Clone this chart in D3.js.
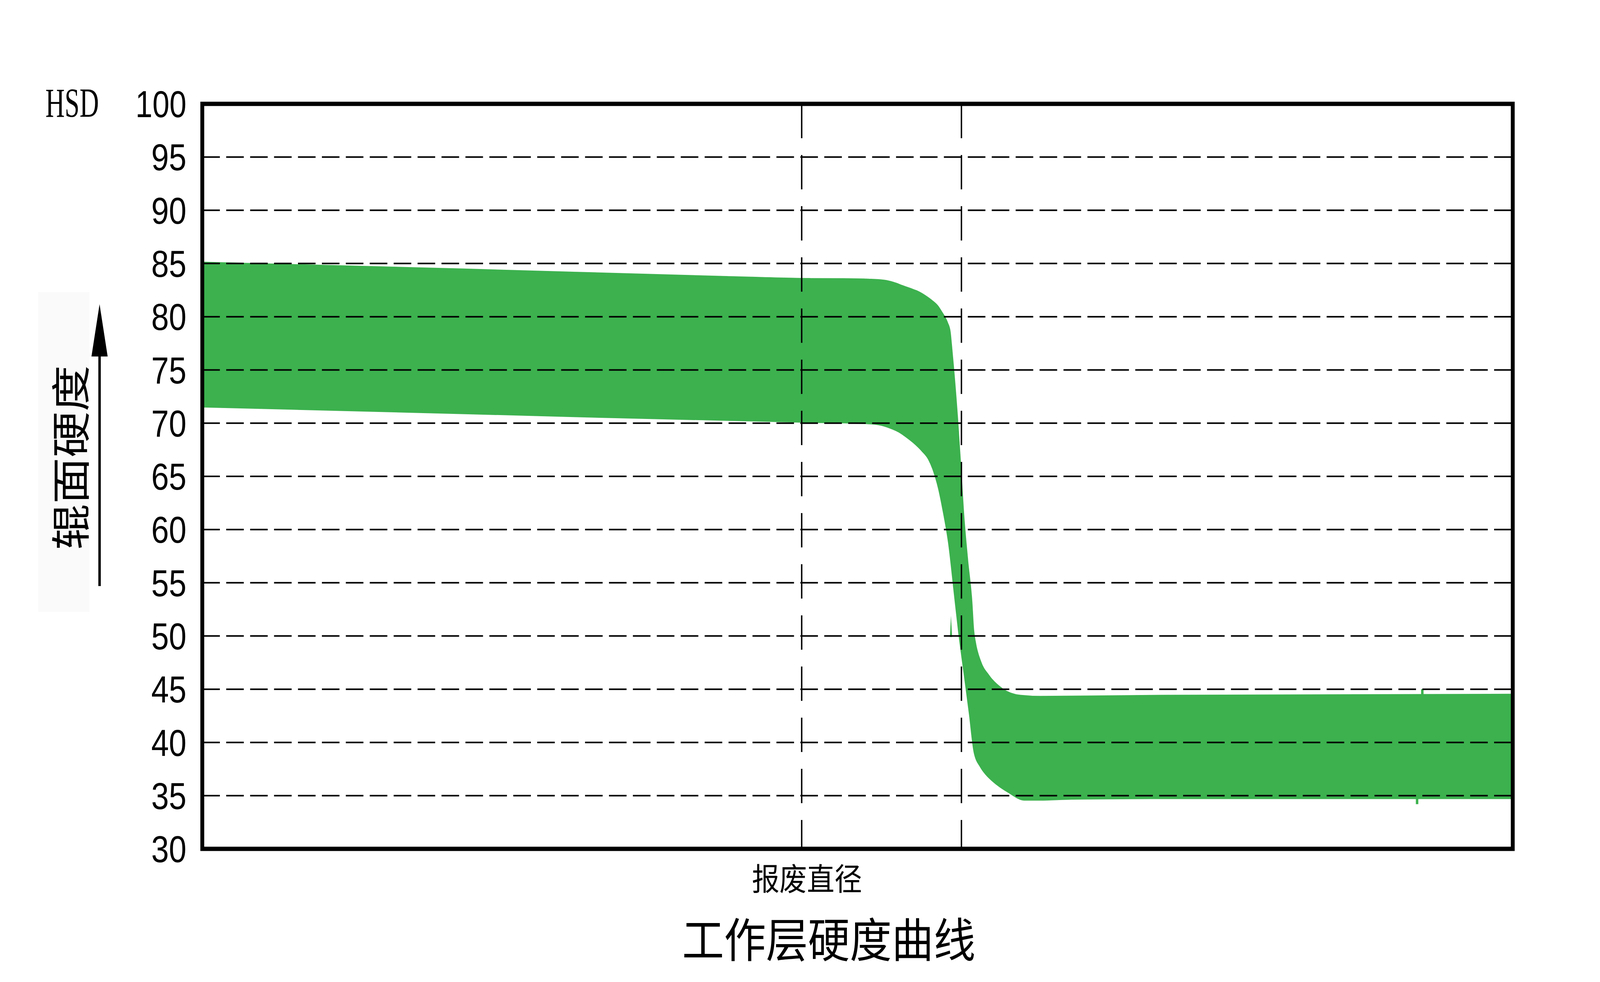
<!DOCTYPE html>
<html>
<head>
<meta charset="utf-8">
<script src="https://cdn.jsdelivr.net/npm/d3@7"></script>
<style>
  html, body { margin: 0; padding: 0; background: #fff; overflow: hidden; }
  svg { display: block; }
</style>
</head>
<body>
<div id="chart"></div>
<script>
const W = 4548;
const H = 2515;

// hardness ticks (HSD)
const yTicks = [30, 35, 40, 45, 50, 55, 60, 65, 70, 75, 80, 85, 90, 95, 100];

// position across the roll, 0 = left edge of the plot, 100 = right edge
const upperPos = [0, 20, 40, 46.31, 48.99, 50.82, 52.05, 52.75, 53.42, 54.09, 54.52, 55.17, 55.62, 56.11, 56.43, 56.72, 56.86, 57.05, 57.15, 57.32, 57.64, 57.85, 58.07, 58.39, 58.71, 58.84, 58.98, 59.38, 60.0, 61.07, 62.42, 63.95, 73.15, 100];
const upperHSD = [85.1, 84.45, 83.75, 83.56, 83.55, 83.5, 83.4, 83.2, 82.9, 82.6, 82.4, 81.95, 81.55, 81.0, 80.4, 79.8, 79.4, 78.6, 77.4, 75.1, 70.05, 66.1, 61.7, 57.1, 53.2, 50.6, 49.4, 47.6, 46.3, 45.0, 44.4, 44.3, 44.4, 44.5];

const lowerPos = [0, 20, 46.31, 48.99, 51.09, 52.05, 52.62, 53.15, 53.69, 54.26, 54.93, 55.44, 55.76, 55.97, 56.19, 56.51, 56.99, 57.4, 57.72, 58.2, 58.55, 58.91, 59.4, 59.81, 60.35, 61.56, 62.74, 63.95, 66.34, 73.15, 100];
const lowerHSD = [71.55, 70.92, 70.1, 70.05, 69.95, 69.75, 69.5, 69.2, 68.75, 68.2, 67.4, 66.6, 65.7, 64.9, 63.9, 62.0, 58.5, 54.0, 50.5, 46.0, 42.7, 39.1, 37.7, 37.0, 36.35, 35.3, 34.6, 34.6, 34.7, 34.75, 34.75];

// small stray traces in the band
const sliverPos = [57.13, 57.22, 57.05];
const sliverHSD = [51.9, 49.9, 49.9];
const strayPos = [93.1, 92.7];
const strayFrom = [44.5, 34.8];
const strayTo = [45.0, 34.2];

// vertical reference lines: scrap diameter and working layer end
const refPos = [45.74, 57.93];
const refLabel = "报废直径";

const yLabel = "辊面硬度";
const unitLabel = "HSD";
const title = "工作层硬度曲线";

const plotL = 575, plotR = 4300, plotT = 266, plotB = 2174;
const green = "#3cb14e";

// drawing is laid out on a 4548x2515 board and stretched to the window
const svg = d3.select('#chart')
    .append('svg')
    .attr('viewBox', '0 0 ' + W + ' ' + H)
    .attr('preserveAspectRatio', 'none')
    .style('width', '100vw')
    .style('height', '100vh')
    .style('background-color', '#fff');

const x = d3.scaleLinear().domain([0, 100]).range([plotL, plotR]);
const y = d3.scaleLinear().domain([30, 100]).range([plotB, plotT]);

// band of hardness curves
const upper = upperPos.map((p, i) => [p, upperHSD[i]]);
const lower = lowerPos.map((p, i) => [p, lowerHSD[i]]).reverse();
const edge = d3.line()
    .x(d => x(d[0]))
    .y(d => y(d[1]))
    .curve(d3.curveMonotoneX);
const bandPath = edge(upper) + 'L' + edge(lower).slice(1) + 'Z';

svg.append('path')
    .attr('d', bandPath)
    .attr('fill', green)
    .attr('stroke', green)
    .attr('stroke-width', 4);

svg.append('path')
    .attr('d', d3.line().x(d => x(d[0])).y(d => y(d[1]))(sliverPos.map((p, i) => [p, sliverHSD[i]])) + 'Z')
    .attr('fill', green);

svg.selectAll('.stray')
    .data(strayPos)
    .enter()
    .append('line')
    .attr('class', 'stray')
    .attr('x1', d => x(d))
    .attr('x2', d => x(d))
    .attr('y1', (d, i) => y(strayFrom[i]))
    .attr('y2', (d, i) => y(strayTo[i]))
    .attr('stroke', green)
    .attr('stroke-width', 7);

// horizontal dashed grid
svg.selectAll('.hgrid')
    .data(yTicks.filter(t => t > 30 && t < 100))
    .enter()
    .append('line')
    .attr('class', 'hgrid')
    .attr('x1', plotL)
    .attr('x2', plotR)
    .attr('y1', d => y(d))
    .attr('y2', d => y(d))
    .attr('stroke', '#000')
    .attr('stroke-width', 4)
    .attr('stroke-dasharray', '50 18');

// vertical dashed reference lines
svg.selectAll('.vref')
    .data(refPos)
    .enter()
    .append('line')
    .attr('class', 'vref')
    .attr('x1', d => x(d))
    .attr('x2', d => x(d))
    .attr('y1', plotT)
    .attr('y2', plotB)
    .attr('stroke', '#000')
    .attr('stroke-width', 4)
    .attr('stroke-dasharray', '88 43');

// frame
svg.append('rect')
    .attr('x', plotL)
    .attr('y', plotT)
    .attr('width', plotR - plotL)
    .attr('height', plotB - plotT)
    .attr('fill', 'none')
    .attr('stroke', '#000')
    .attr('stroke-width', 11);

// y axis labels
const yAxis = d3.axisLeft(y).tickValues(yTicks).tickSize(0).tickPadding(45);
const ya = svg.append('g')
    .attr('id', 'y-axis')
    .attr('transform', 'translate(' + plotL + ',0)')
    .call(yAxis);
ya.select('.domain').remove();
ya.selectAll('text')
    .attr('dy', '0.35em')
    .attr('x', -45)
    .style('font-family', '"Liberation Sans", Arial, sans-serif')
    .style('font-size', '96px')
    .attr('fill', '#000')
    .attr('textLength', d => String(d).length === 3 ? 145 : 100)
    .attr('lengthAdjust', 'spacingAndGlyphs');

svg.append('text')
    .attr('x', 129)
    .attr('y', 299)
    .attr('textLength', 152)
    .attr('lengthAdjust', 'spacingAndGlyphs')
    .style('font-family', '"Liberation Serif", "Times New Roman", serif')
    .style('font-size', '106px')
    .text(unitLabel);

// y label block with arrow
svg.append('rect')
    .attr('x', 109)
    .attr('y', 748)
    .attr('width', 145)
    .attr('height', 819)
    .attr('fill', '#fafafa');

svg.append('text')
    .attr('transform', 'translate(194,1172) rotate(-90)')
    .attr('text-anchor', 'middle')
    .attr('dominant-baseline', 'central')
    .attr('textLength', 473)
    .attr('lengthAdjust', 'spacingAndGlyphs')
    .style('font-family', '"Noto Sans CJK SC", sans-serif')
    .style('font-size', '112px')
    .text(yLabel);

svg.append('line')
    .attr('x1', 283).attr('x2', 283)
    .attr('y1', 1501).attr('y2', 905)
    .attr('stroke', '#000')
    .attr('stroke-width', 7);
svg.append('path')
    .attr('d', 'M283,779L260,913L306,913Z')
    .attr('fill', '#000');

// scrap diameter label and title
svg.append('text')
    .attr('x', x(refPos[0]) + 15)
    .attr('y', 2280)
    .attr('text-anchor', 'middle')
    .attr('textLength', 313)
    .attr('lengthAdjust', 'spacingAndGlyphs')
    .style('font-family', '"Noto Sans CJK SC", sans-serif')
    .style('font-size', '80px')
    .text(refLabel);

svg.append('text')
    .attr('x', 2356)
    .attr('y', 2452)
    .attr('text-anchor', 'middle')
    .attr('textLength', 834)
    .attr('lengthAdjust', 'spacingAndGlyphs')
    .style('font-family', '"Noto Sans CJK SC", sans-serif')
    .style('font-size', '120px')
    .text(title);
</script>
</body>
</html>
